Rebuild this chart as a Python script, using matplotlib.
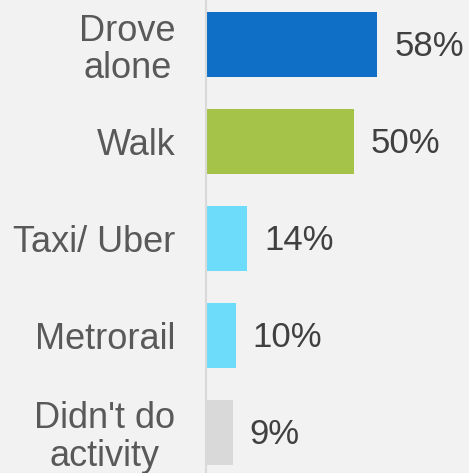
import matplotlib
matplotlib.use("Agg")
import matplotlib.pyplot as plt

categories = ["Drove\nalone", "Walk", "Taxi/ Uber", "Metrorail", "Didn't do\nactivity"]
values = [58, 50, 14, 10, 9]
colors = ["#0f6fc6", "#a5c249", "#6ddcfa", "#6ddcfa", "#d9d9d9"]

plt.rcParams['font.family'] = ['Liberation Sans', 'DejaVu Sans']
fig = plt.figure(figsize=(4.69, 4.73), dpi=100, facecolor="#f2f2f2")
ax = fig.add_axes([206/469, 0, 263/469, 1])
ax.set_facecolor("#f2f2f2")

y = list(range(len(categories)))
ax.barh(y, values, height=0.67, color=colors, zorder=2)
for yi, v in zip(y, values):
    ax.annotate(f"{v}%", (v, yi), xytext=(17, -2), textcoords="offset pixels",
                ha="left", va="center", fontsize=25, color="#404040")

ax.set_xlim(0, 89)
ax.set_ylim(4.418, -0.459)
ax.set_yticks(y)
ax.set_yticklabels(categories, fontsize=26, color="#595959", multialignment="center",
                   linespacing=1.1)
ax.tick_params(axis="y", length=0, pad=22)
ax.set_xticks([])
for s in ["top", "right", "bottom"]:
    ax.spines[s].set_visible(False)
ax.spines["left"].set_color("#d9d9d9")
ax.spines["left"].set_linewidth(1.5)

fig.savefig("out.png", dpi=100, facecolor="#f2f2f2")
